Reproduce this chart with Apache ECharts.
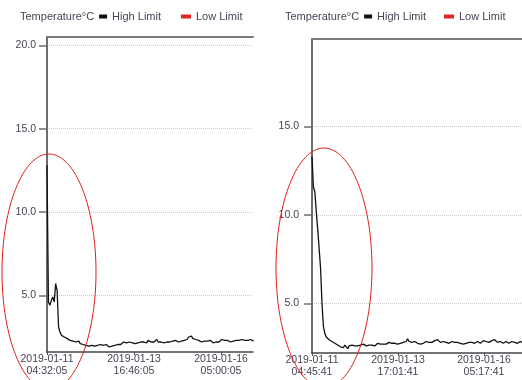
<!DOCTYPE html>
<html>
<head>
<meta charset="utf-8">
<script src="https://cdn.jsdelivr.net/npm/echarts@6/dist/echarts.min.js"></script>
<style>
  html, body { margin: 0; padding: 0; background: #ffffff; }
  #chart { width: 522px; height: 380px; }
</style>
</head>
<body>
<div id="chart"></div>
<script>
// Logger samples, one reading per hour from the start of each trip
const sampleStepHours = 1;

const legendNames = ['Temperature°C', 'High Limit', 'Low Limit'];

const leftTickLabels = ['2019-01-11\n04:32:05', '2019-01-13\n16:46:05', '2019-01-16\n05:00:05'];
const rightTickLabels = ['2019-01-11\n04:45:41', '2019-01-13\n17:01:41', '2019-01-16\n05:17:41'];

const leftYTicks = [5, 10, 15, 20];
const rightYTicks = [5, 10, 15];

// Trip 1 temperatures (°C)
const leftTemps = [
  12.8, 4.6, 4.4, 4.7, 4.9, 4.6, 5.7, 5.3, 3.1, 2.8, 2.6, 2.55, 2.5, 2.45, 2.4, 2.35, 2.3, 2.35, 2.25, 2.3,
  2.2, 2.15, 2.25, 2.1, 2.15, 2.05, 2.1,
  2.0, 2.1, 1.95, 2.05, 2.0, 2.1, 1.95, 2.05, 2.0, 1.9, 2.05,
  1.95, 2.0, 1.9, 2.05, 1.95, 1.9, 2.0, 1.95, 2.05, 2.0,
  2.1, 2.05, 2.15, 2.05, 2.1, 2.2, 2.1, 2.15, 2.05, 2.2, 2.1, 2.15, 2.2, 2.1,
  2.2, 2.15, 2.25, 2.2, 2.3, 2.2, 2.25, 2.15, 2.3, 2.25, 2.2, 2.3, 2.2, 2.25, 2.35, 2.2, 2.25,
  2.2, 2.3, 2.15, 2.25, 2.2, 2.3, 2.2, 2.15, 2.25, 2.2, 2.3, 2.25, 2.2, 2.3, 2.25, 2.35, 2.3, 2.4,
  2.35, 2.5, 2.45, 2.55, 2.4, 2.45, 2.35, 2.4, 2.3, 2.25,
  2.2, 2.3, 2.25, 2.15, 2.25, 2.2, 2.3, 2.2, 2.15, 2.25, 2.2, 2.3, 2.2, 2.25, 2.35, 2.25, 2.3, 2.2, 2.3, 2.25, 2.2,
  2.3, 2.25, 2.35, 2.3, 2.2, 2.3, 2.25, 2.35, 2.25, 2.3, 2.2, 2.3, 2.25, 2.35, 2.3, 2.25
];

// Trip 2 temperatures (°C)
const rightTemps = [
  13.3, 11.6, 11.3, 10.2, 9.2, 8.1, 7.0, 5.0, 3.7, 3.3, 3.1, 3.0, 2.95, 2.9, 2.85, 2.8, 2.75, 2.7, 2.65, 2.6,
  2.55, 2.6, 2.5, 2.65, 2.55, 2.45, 2.6, 2.5, 2.65, 2.55, 2.6, 2.5, 2.6, 2.55, 2.65,
  2.6, 2.7, 2.65, 2.6, 2.7, 2.65, 2.75, 2.65, 2.7, 2.6, 2.7, 2.75, 2.65, 2.7, 2.75, 2.7,
  2.8, 2.7, 2.75, 2.8, 2.7, 2.75, 2.85, 2.75, 2.8, 2.7, 2.8, 2.75, 2.85, 2.8, 2.9, 2.85,
  3.0, 2.85, 2.95, 2.8, 2.75, 2.85, 2.8, 2.75, 2.8, 2.7, 2.8, 2.75, 2.8, 2.85,
  2.75, 2.8, 2.7, 2.8, 2.85, 2.9, 2.8, 2.95, 2.85, 2.8, 2.9, 2.85, 2.95, 2.8, 2.85, 2.75, 2.8, 2.85, 2.75, 2.8,
  2.75, 2.8, 2.85, 2.75, 2.8, 2.7, 2.8, 2.75, 2.85, 2.8, 2.75, 2.8, 2.7, 2.75, 2.8, 2.85, 2.8, 2.75, 2.8, 2.9, 2.8, 2.85, 2.75, 2.8, 2.85,
  2.9, 2.8, 2.95, 2.85, 2.8, 2.75, 2.85, 2.8, 2.75, 2.8, 2.85, 2.8, 2.75, 2.8, 2.85, 2.9, 2.8, 2.85, 2.75, 2.8, 2.85, 2.8, 2.75, 2.8, 2.85
];

const FONT = '"Liberation Sans", Arial, sans-serif';
const TEXT_COLOR = '#4b4155';

// Hours elapsed since the first tick, from the tick timestamps
function tickHours(labels) {
  const t0 = Date.parse(labels[0].replace('\n', 'T'));
  return labels.map(l => (Date.parse(l.replace('\n', 'T')) - t0) / 3600000);
}
const leftTickHours = tickHours(leftTickLabels);
const rightTickHours = tickHours(rightTickLabels);

function toSeriesData(temps) {
  return temps.map((v, i) => [i * sampleStepHours, v]);
}

function timeAxis(gridIndex, max, ticks, labels) {
  return {
    type: 'value', gridIndex, position: 'bottom', min: 0, max,
    axisLine: { show: true, onZero: false, lineStyle: { color: '#444444', width: 1.5 } },
    axisTick: { show: true, customValues: ticks, length: 3, lineStyle: { color: '#4a4a4a' } },
    axisLabel: {
      customValues: ticks, margin: 1, color: TEXT_COLOR, fontFamily: FONT, fontSize: 10.5, lineHeight: 12,
      formatter: v => {
        let best = 0;
        ticks.forEach((t, i) => { if (Math.abs(t - v) < Math.abs(ticks[best] - v)) best = i; });
        return labels[best];
      }
    },
    splitLine: { show: false }
  };
}

// Upper frame edge of each plot
function topFrame(gridIndex, max) {
  return {
    type: 'value', gridIndex, position: 'top', min: 0, max,
    axisLine: { show: true, onZero: false, lineStyle: { color: '#7a7a7a', width: 2 } },
    axisTick: { show: false }, axisLabel: { show: false }, splitLine: { show: false }
  };
}

function tempAxis(gridIndex, min, max, ticks, margin) {
  return {
    type: 'value', gridIndex, position: 'left', min, max, splitNumber: 4,
    axisLine: { show: true, onZero: false, lineStyle: { color: '#6e6e6e', width: 2 } },
    axisTick: { show: true, customValues: ticks, length: 8, lineStyle: { color: '#6e6e6e', width: 1.5 } },
    axisLabel: {
      customValues: ticks, margin, color: TEXT_COLOR, fontFamily: FONT, fontSize: 10.5,
      formatter: v => v.toFixed(1)
    },
    splitLine: { show: true, lineStyle: { color: '#cfc6c6', type: 'dotted', width: 1 } }
  };
}

const legendText = { color: TEXT_COLOR, fontFamily: FONT, fontSize: 11 };

// Each panel: one legend for the reading and upper limit, one for the lower limit
function legendsAt(left, lowLeft) {
  return [
    {
      left, top: 6, itemWidth: 8, itemHeight: 4, itemGap: 5, icon: 'rect',
      textStyle: legendText, selectedMode: false,
      data: [{ name: legendNames[0], icon: 'none' }, { name: legendNames[1] }]
    },
    {
      left: lowLeft, top: 6, itemWidth: 10, itemHeight: 4, icon: 'rect',
      textStyle: legendText, selectedMode: false,
      data: [{ name: legendNames[2] }]
    }
  ];
}

const chart = echarts.init(document.getElementById('chart'), null, { renderer: 'canvas' });

chart.setOption({
  animation: false,
  backgroundColor: '#ffffff',
  legend: [...legendsAt(2, 176), ...legendsAt(267, 439)],
  grid: [
    { left: 47, top: 37, width: 206, height: 315, outerBoundsMode: 'none', containLabel: false },
    { left: 312, top: 39, width: 240, height: 314, outerBoundsMode: 'none', containLabel: false }
  ],
  xAxis: [
    timeAxis(0, 142.6, leftTickHours, leftTickLabels),
    topFrame(0, 142.6),
    timeAxis(1, 168.2, rightTickHours, rightTickLabels),
    topFrame(1, 168.2)
  ],
  yAxis: [
    tempAxis(0, 1.6, 20.5, leftYTicks, 11),
    tempAxis(1, 2.2, 19.95, rightYTicks, 13)
  ],
  series: [
    {
      name: legendNames[0], type: 'line', xAxisIndex: 0, yAxisIndex: 0,
      data: toSeriesData(leftTemps), symbol: 'none', color: '#111111',
      lineStyle: { color: '#111111', width: 1.3 }
    },
    {
      name: legendNames[0], type: 'line', xAxisIndex: 2, yAxisIndex: 1,
      data: toSeriesData(rightTemps), symbol: 'none', color: '#111111',
      lineStyle: { color: '#111111', width: 1.3 }
    },
    { name: legendNames[1], type: 'line', xAxisIndex: 0, yAxisIndex: 0, data: [], color: '#111111' },
    { name: legendNames[2], type: 'line', xAxisIndex: 0, yAxisIndex: 0, data: [], color: '#e02525' }
  ],
  graphic: [
    {
      type: 'ellipse', z: 100, silent: true,
      shape: { cx: 49, cy: 272, rx: 47, ry: 118 },
      style: { fill: null, stroke: '#e0201c', lineWidth: 1 }
    },
    {
      type: 'ellipse', z: 100, silent: true,
      shape: { cx: 324, cy: 268, rx: 48, ry: 120 },
      style: { fill: null, stroke: '#e0201c', lineWidth: 1 }
    }
  ]
});
</script>
</body>
</html>
